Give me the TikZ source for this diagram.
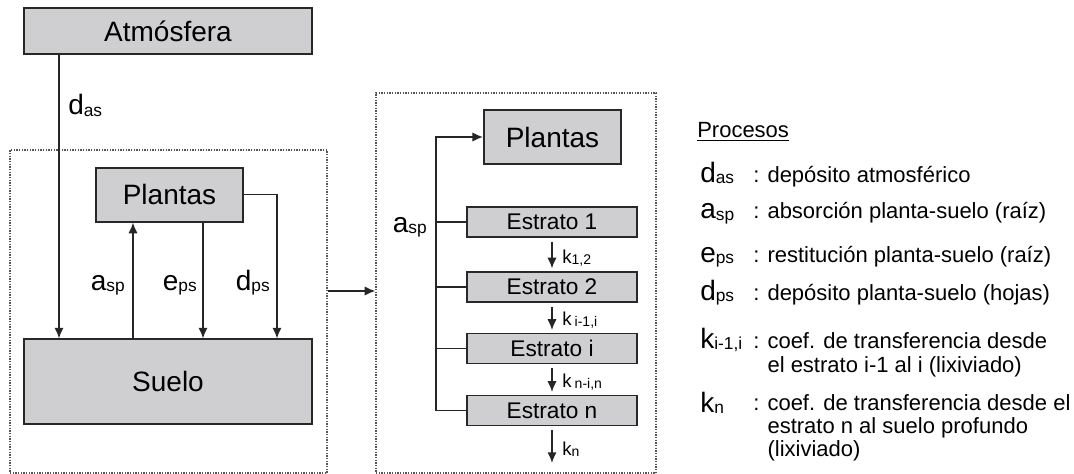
\documentclass[tikz,border=0pt]{standalone}
\usepackage{fontspec}
\setmainfont{Liberation Sans}
\usetikzlibrary{arrows.meta}

\definecolor{boxgray}{RGB}{207,207,210}
\definecolor{edgegray}{RGB}{40,40,40}
\definecolor{dotgray}{RGB}{85,85,85}

\newcommand{\sbs}[1]{\raisebox{-0.12ex}{\fontsize{13}{14}\selectfont #1}}
\newcommand{\ksbs}[1]{\raisebox{-0.12ex}{\fontsize{10.5}{12}\selectfont #1}}

\begin{document}
\begin{tikzpicture}[x=0.75pt, y=-0.75pt,
  compbox/.style={draw=edgegray, line width=1.4pt, fill=boxgray, inner sep=0pt, font=\fontsize{21}{24}\selectfont},
  layerbox/.style={compbox, minimum width=127.5pt, minimum height=22.5pt, font=\fontsize{17}{20}\selectfont},
  zone/.style={draw=dotgray, densely dotted, line width=1pt, inner sep=0pt},
  flow/.style={draw=black!85, line width=1.2pt, -{Latex[length=8pt,width=7pt]}},
  link/.style={draw=black!85, line width=1.2pt},
  rate/.style={font=\fontsize{21}{24}\selectfont, inner sep=0pt},
  krate/.style={font=\fontsize{14}{16}\selectfont, inner sep=0pt, anchor=base west},
  legtext/.style={font=\fontsize{16.5}{17}\selectfont, inner sep=0pt, anchor=base west, align=left}]
\useasboundingbox (0,0) rectangle (1074,474);

% left: atmosphere, plants and soil
\node[zone, minimum width=237.75pt, minimum height=242.25pt] (zonaL) at (168.5,311.5) {};
\node[compbox, minimum width=216pt, minimum height=34.5pt] (atm) at (168,31) {Atmósfera};
\node[compbox, minimum width=110.7pt, minimum height=40.5pt] (plantasL) at (169.5,194.7) {Plantas};
\node[compbox, minimum width=215.8pt, minimum height=63.5pt] (suelo) at (168,381.7) {Suelo};

\coordinate (dasx) at (59,0);
\coordinate (aspx) at (133,0);
\coordinate (epsx) at (203,0);
\coordinate (dpsx) at (277,0);
\draw[flow] (dasx |- atm.south) -- (dasx |- suelo.north);
\draw[flow] (aspx |- suelo.north) -- (aspx |- plantasL.south);
\draw[flow] (epsx |- plantasL.south) -- (epsx |- suelo.north);
\draw[flow] (plantasL.east) -| (dpsx |- suelo.north);

\node[rate, anchor=base west] (das) at (68,115) {d\sbs{as}};
\node[rate, anchor=base east] (asp1) at (125,290) {a\sbs{sp}};
\node[rate, anchor=base east] (eps) at (197,290) {e\sbs{ps}};
\node[rate, anchor=base east] (dps) at (270,290) {d\sbs{ps}};

% right: plants and soil layers
\node[zone, minimum width=210pt, minimum height=285pt] (zonaR) at (516,283) {};
\coordinate (jump) at (0,291);
\draw[flow] (zonaL.east |- jump) -- (zonaR.west |- jump);

\node[compbox, minimum width=102.75pt, minimum height=40.5pt] (plantasR) at (552.5,137) {Plantas};
\node[layerbox] (est1) at (552,222) {Estrato 1};
\node[layerbox] (est2) at (552,287) {Estrato 2};
\node[layerbox] (esti) at (552,348.5) {Estrato i};
\node[layerbox] (estn) at (552,410.5) {Estrato n};

\coordinate (brk) at (436,0);
\draw[flow] (estn.west) -- (brk |- estn.west) -- (brk |- plantasR.west) -- (plantasR.west);
\draw[link] (brk |- est1.west) -- (est1.west);
\draw[link] (brk |- est2.west) -- (est2.west);
\draw[link] (brk |- esti.west) -- (esti.west);
\node[rate, anchor=base east] (asp2) at (427,232) {a\sbs{sp}};

\coordinate (kend) at (552,463);
\draw[flow, shorten <=3pt, shorten >=2pt] (est1.south) -- (est2.north);
\draw[flow, shorten <=3pt, shorten >=2pt] (est2.south) -- (esti.north);
\draw[flow, shorten <=3pt, shorten >=2pt] (esti.south) -- (estn.north);
\draw[flow, shorten <=3pt] (estn.south) -- (kend);
\node[krate] (k12) at (562,263) {k\ksbs{1,2}};
\node[krate] (kii) at (562,325) {k\,\ksbs{i-1,i}};
\node[krate] (knin) at (562,387) {k\,\ksbs{n-i,n}};
\node[krate] (kn) at (562,455) {k\ksbs{n}};

% legend
\node[legtext] (proc) at (697,138) {\underline{Procesos}};
\node[rate, anchor=base west] (ldas) at (700,182) {d\sbs{as}};
\node[rate, anchor=base west] (lasp) at (700,219) {a\sbs{sp}};
\node[rate, anchor=base west] (leps) at (700,262) {e\sbs{ps}};
\node[rate, anchor=base west] (ldps) at (700,300) {d\sbs{ps}};
\node[rate, anchor=base west] (lkii) at (700,348) {k\sbs{i-1,i}};
\node[rate, anchor=base west] (lkn) at (700,412) {k\sbs{n}};
\node[legtext] (tdas) at (753,182) {: depósito atmosférico};
\node[legtext] (tasp) at (753,219) {: absorción planta-suelo (raíz)};
\node[legtext] (teps) at (753,262) {: restitución planta-suelo (raíz)};
\node[legtext] (tdps) at (753,300) {: depósito planta-suelo (hojas)};
\node[legtext] (tkii) at (753,372) {: coef. de transferencia desde\\[1pt]\phantom{: }el estrato i-1 al i (lixiviado)};
\node[legtext] (tkn) at (753,456) {: coef. de transferencia desde el\\\phantom{: }estrato n al suelo profundo\\\phantom{: }(lixiviado)};
\end{tikzpicture}
\end{document}
